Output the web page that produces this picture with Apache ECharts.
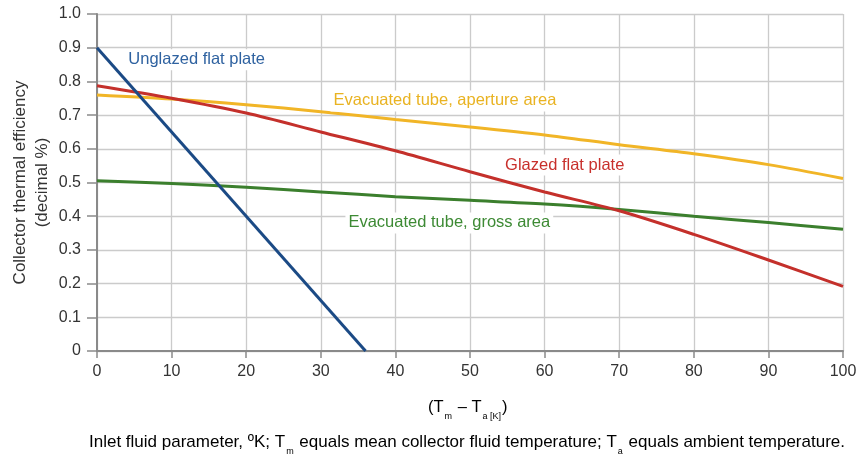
<!DOCTYPE html>
<html>
<head>
<meta charset="utf-8">
<style>
  html, body { margin: 0; padding: 0; background: #fff; }
  #chart { width: 858px; height: 459px; }
</style>
<script src="https://cdn.jsdelivr.net/npm/echarts@6/dist/echarts.min.js"></script>
</head>
<body>
<div id="chart"></div>
<script>
// temperature difference (K)
const xTicks = [0, 10, 20, 30, 40, 50, 60, 70, 80, 90, 100]
const unglazedX = [0, 36]
const unglazed = [0.9, 0]
const glazed = [0.787, 0.75, 0.706, 0.65, 0.594, 0.532, 0.472, 0.416, 0.346, 0.27, 0.192]
const evacAperture = [0.76, 0.748, 0.731, 0.71, 0.687, 0.665, 0.641, 0.612, 0.585, 0.553, 0.512]
const evacGross = [0.505, 0.497, 0.486, 0.472, 0.458, 0.447, 0.436, 0.42, 0.4, 0.381, 0.361]

const FONT = '"Liberation Sans", Arial, Helvetica, sans-serif'

const Colors = {
  unglazed: '#1b4a85',
  glazed: '#c4302b',
  aperture: '#f1b527',
  gross: '#3b7f2d'
}

function pairs(xs, ys) {
  return xs.map((x, i) => [x, ys[i]])
}

function lineLabel(text, coord, color) {
  return {
    symbol: 'rect',
    symbolSize: 0,
    silent: true,
    data: [{
      coord: coord,
      label: {
        show: true,
        position: 'right',
        distance: 0,
        formatter: text,
        color: color,
        fontFamily: FONT,
        fontSize: 16.5,
        backgroundColor: '#fff',
        padding: [2, 3]
      }
    }]
  }
}

function makeSeries(name, data, color, label) {
  return {
    name: name,
    type: 'line',
    symbol: 'none',
    smooth: 0.3,
    z: 3,
    lineStyle: { color: color, width: 3 },
    itemStyle: { color: color },
    data: data,
    markPoint: label
  }
}

function subRich(size) {
  return {
    n: { fontFamily: FONT, fontSize: size, color: '#333', lineHeight: 20, verticalAlign: 'bottom' },
    s: { fontFamily: FONT, fontSize: 9, color: '#333', lineHeight: 12, verticalAlign: 'bottom', padding: [0, 1, -5, 1] }
  }
}

const chart = echarts.init(document.getElementById('chart'))

chart.setOption({
  animation: false,
  grid: {
    left: 97,
    right: 15,
    top: 14,
    bottom: 108,
    containLabel: false,
    outerBoundsMode: 'none'
  },
  xAxis: {
    type: 'value',
    min: 0,
    max: 100,
    interval: 10,
    axisLine: { lineStyle: { color: '#8a8a8a', width: 2 } },
    axisTick: { show: true, length: 7, lineStyle: { color: '#8a8a8a', width: 1.5 } },
    axisLabel: { color: '#333', fontFamily: FONT, fontSize: 16, margin: 13 },
    splitLine: { show: true, lineStyle: { color: '#cbcbcb', width: 1.3 } }
  },
  yAxis: {
    type: 'value',
    min: 0,
    max: 1,
    interval: 0.1,
    name: 'Collector thermal efficiency\n(decimal %)',
    nameLocation: 'middle',
    nameGap: 44,
    nameMoveOverlap: false,
    nameTextStyle: { color: '#333', fontFamily: FONT, fontSize: 17, lineHeight: 22 },
    axisLine: { show: true, lineStyle: { color: '#8a8a8a', width: 2 } },
    axisTick: { show: true, length: 10, lineStyle: { color: '#8a8a8a', width: 1.5 } },
    axisLabel: {
      color: '#333',
      fontFamily: FONT,
      fontSize: 16,
      margin: 16,
      formatter: v => (v === 0 ? '0' : v.toFixed(1))
    },
    splitLine: { show: true, lineStyle: { color: '#cbcbcb', width: 1.3 } }
  },
  graphic: [
    {
      type: 'text',
      left: 428,
      top: 399,
      style: {
        text: '{n|(T}{s|m}{n| – T}{s|a [K]}{n|)}',
        rich: subRich(16.5)
      }
    },
    {
      type: 'text',
      left: 89,
      top: 434,
      style: {
        text: '{n|Inlet fluid parameter, ºK; T}{s|m}{n| equals mean collector fluid temperature; T}{s|a}{n| equals ambient temperature.}',
        rich: subRich(17)
      }
    }
  ],
  series: [
    makeSeries('Evacuated tube, gross area', pairs(xTicks, evacGross), Colors.gross,
      lineLabel('Evacuated tube, gross area', [33.3, 0.38], '#3d8a34')),
    makeSeries('Evacuated tube, aperture area', pairs(xTicks, evacAperture), Colors.aperture,
      lineLabel('Evacuated tube, aperture area', [31.3, 0.742], '#e9b322')),
    makeSeries('Glazed flat plate', pairs(xTicks, glazed), Colors.glazed,
      lineLabel('Glazed flat plate', [54.3, 0.552], '#c8302c')),
    makeSeries('Unglazed flat plate', pairs(unglazedX, unglazed), Colors.unglazed,
      lineLabel('Unglazed flat plate', [3.8, 0.864], '#2f62a0'))
  ]
})
</script>
</body>
</html>
